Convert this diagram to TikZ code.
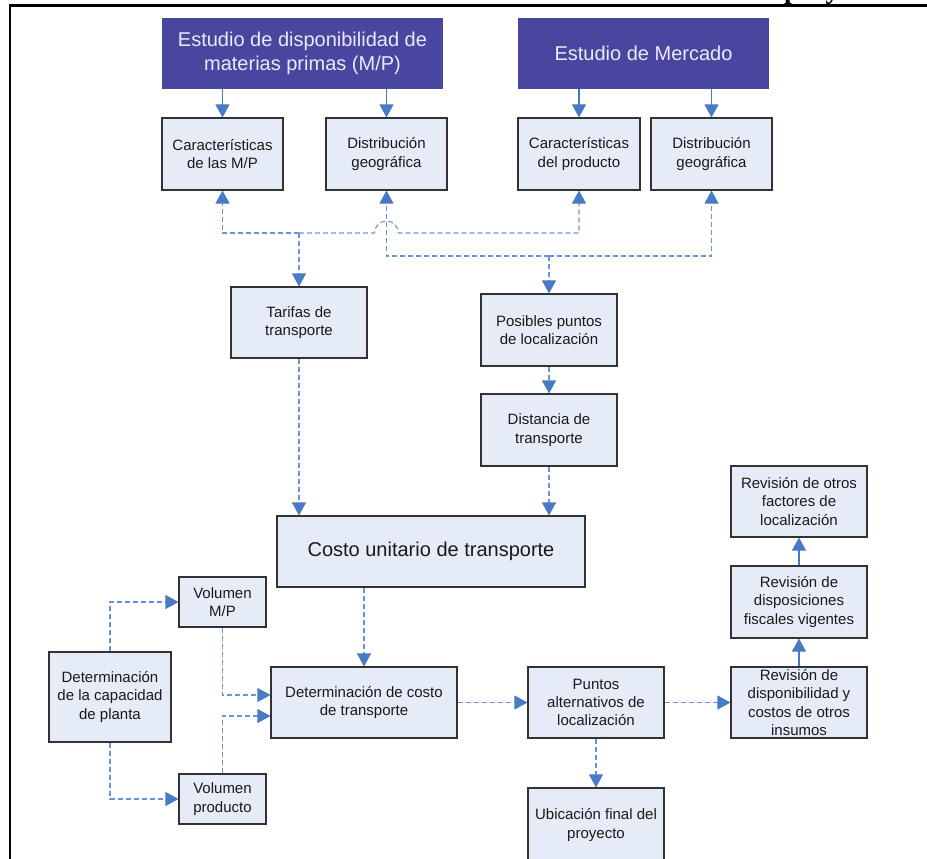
\documentclass[tikz,border=0pt]{standalone}
\usepackage{fontspec}
\setmainfont{Liberation Sans}
\newfontfamily\captionserif{Liberation Serif}
\usetikzlibrary{arrows.meta}

\definecolor{headblue}{RGB}{73,70,160}
\definecolor{headtext}{RGB}{234,234,248}
\definecolor{boxfill}{RGB}{230,236,247}
\definecolor{boxline}{RGB}{50,50,50}
\definecolor{arrowblue}{RGB}{72,122,197}
\definecolor{dashblue}{RGB}{105,148,215}

\begin{document}
\begin{tikzpicture}[x=1pt,y=-1pt,
  box/.style={draw=boxline, line width=1.1pt, fill=boxfill, align=center,
    inner sep=0pt, font=\fontsize{15}{18.3}\selectfont, text=black!90},
  headbox/.style={fill=headblue, align=center, inner sep=0pt,
    font=\fontsize{20}{23.5}\selectfont, text=headtext},
  tip/.tip={Triangle[width=14pt,length=13pt,color=arrowblue]},
  flow/.style={draw=arrowblue, line width=1.1pt, -tip},
  link/.style={draw=dashblue, line width=1.1pt, dash pattern=on 5pt off 3pt, -tip}]

\useasboundingbox (0,0) rectangle (927,859);
\clip (0,0) rectangle (927,859);

% page frame and running heading above it
\node[anchor=base west, inner sep=0pt,
  font=\captionserif\bfseries\fontsize{28}{28}\selectfont] (heading) at (784,-1.5) {proyecto};
\draw[line width=2.5pt] (927,5.5) -- (10,5.5) -- (10,870);

% studies
\node[headbox, minimum width=281pt, minimum height=71pt] (studyMP) at (302.5,53.5)
  {Estudio de disponibilidad de\\materias primas (M/P)};
\node[headbox, minimum width=251pt, minimum height=71pt] (studyMk) at (643.5,53.5)
  {Estudio de Mercado};

% second row
\node[box, minimum width=121pt, minimum height=72pt] (carMP) at (222.5,154) {Características\\de las M/P};
\node[box, minimum width=121pt, minimum height=72pt] (distMP) at (386.5,154) {Distribución\\geográfica};
\node[box, minimum width=122pt, minimum height=72pt] (carPr) at (579,154) {Características\\del producto};
\node[box, minimum width=121pt, minimum height=72pt] (distPr) at (711.5,154) {Distribución\\geográfica};

% transport chain
\node[box, minimum width=136pt, minimum height=71pt] (tarifas) at (299,322.5) {Tarifas de\\transporte};
\node[box, minimum width=136pt, minimum height=72pt] (posibles) at (549,330) {Posibles puntos\\de localización};
\node[box, minimum width=136pt, minimum height=72pt] (distancia) at (549,430) {Distancia de\\transporte};
\node[box, minimum width=308pt, minimum height=71pt, font=\fontsize{20}{24}\selectfont] (costo) at (431,551.5)
  {Costo unitario de transporte};

% capacity branch
\node[box, minimum width=87pt, minimum height=50pt] (volMP) at (222.5,602) {Volumen\\M/P};
\node[box, minimum width=87pt, minimum height=50pt] (volPr) at (222.5,799) {Volumen\\producto};
\node[box, minimum width=122pt, minimum height=90pt] (detCap) at (110,697) {Determinación\\de la capacidad\\de planta};

% bottom row
\node[box, minimum width=186pt, minimum height=71pt] (detCosto) at (364,702.5) {Determinación de costo\\de transporte};
\node[box, minimum width=136pt, minimum height=71pt] (puntos) at (596,702.5) {Puntos\\alternativos de\\localización};
\node[box, minimum width=136pt, minimum height=74pt] (ubic) at (596,825) {Ubicación final del\\proyecto};

% review column
\node[box, minimum width=136pt, minimum height=71pt] (revOtros) at (799,501.5) {Revisión de otros\\factores de\\localización};
\node[box, minimum width=136pt, minimum height=72pt] (revFisc) at (799,602) {Revisión de\\disposiciones\\fiscales vigentes};
\node[box, minimum width=136pt, minimum height=71pt] (revIns) at (799,702.5) {Revisión de\\disponibilidad y\\costos de otros\\insumos};

% solid arrows
\draw[flow] (studyMP.south -| carMP) -- (carMP.north);
\draw[flow] (studyMP.south -| distMP) -- (distMP.north);
\draw[flow] (studyMk.south -| carPr) -- (carPr.north);
\draw[flow] (studyMk.south -| distPr) -- (distPr.north);
\draw[flow] (revIns.north) -- (revFisc.south);
\draw[flow] (revFisc.north) -- (revOtros.south);

% characteristics bus with a hop over the distribution line
\coordinate (busA) at (299,233);
\coordinate (hop) at (distMP.south |- busA);
\draw[link] (busA) -| (carMP.south);
\draw[link] (busA) -- ([xshift=-12pt]hop) arc[start angle=180, end angle=0, radius=12pt] -| (carPr.south);
\draw[link] (busA) -- (tarifas.north);

% distribution bus
\coordinate (busB) at (549,256);
\draw[link] (busB) -| (distMP.south);
\draw[link] (busB) -| (distPr.south);
\draw[link] (busB) -- (posibles.north);

% transport chain links
\draw[link] (posibles.south) -- (distancia.north);
\draw[link] (tarifas.south) -- (costo.north -| tarifas);
\draw[link] (distancia.south) -- (costo.north -| distancia);
\draw[link] (costo.south -| detCosto) -- (detCosto.north);

% capacity links
\draw[link] (detCap.north) |- (volMP.west);
\draw[link] (detCap.south) |- (volPr.west);
\draw[link] (volMP.south) |- ([yshift=7.5pt]detCosto.west);
\draw[link] (volPr.north) |- ([yshift=-13.5pt]detCosto.west);

% bottom row links
\draw[link] (detCosto.east) -- (puntos.west);
\draw[link] (puntos.east) -- (revIns.west);
\draw[link] (puntos.south) -- (ubic.north);
\end{tikzpicture}
\end{document}
